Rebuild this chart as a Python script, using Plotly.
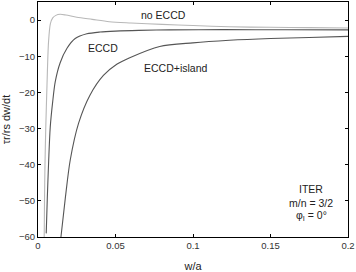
import plotly.graph_objects as go

# data
w_no = [0.0040, 0.0042, 0.0045, 0.0050, 0.0058, 0.0068, 0.0080, 0.0095, 0.0115, 0.0143, 0.018, 0.025, 0.035, 0.046, 0.060, 0.080, 0.100, 0.1235, 0.150, 0.175, 0.200]
v_no = [-60, -50, -40, -30, -18, -6, -1.0, 0.6, 1.3, 1.6, 1.4, 0.8, 0.2, -0.45, -0.8, -1.2, -1.5, -1.85, -2.0, -2.1, -2.2]

w_eccd = [0.0053, 0.0060, 0.0069, 0.0079, 0.0095, 0.0111, 0.0143, 0.0187, 0.024, 0.0315, 0.040, 0.050, 0.065, 0.085, 0.120, 0.160, 0.200]
v_eccd = [-59, -49.3, -38.7, -29.6, -22.5, -17.1, -11.8, -7.8, -5.1, -3.8, -3.3, -3.05, -2.85, -2.72, -2.65, -2.68, -2.72]

w_isl = [0.0148, 0.0176, 0.0208, 0.0262, 0.0336, 0.0422, 0.0508, 0.0592, 0.0785, 0.0999, 0.1235, 0.150, 0.175, 0.200]
v_isl = [-60, -49.3, -38.7, -28.5, -20.7, -15.3, -12.2, -10.4, -7.3, -6.3, -5.6, -5.1, -4.8, -4.5]

x_ticks = [0, 0.05, 0.1, 0.15, 0.2]
x_ticklabels = ["0", "0.05", "0.1", "0.15", "0.2"]
y_ticks = [0, -10, -20, -30, -40, -50, -60]
y_ticklabels = ["0", "\u221210", "\u221220", "\u221230", "\u221240", "\u221250", "\u221260"]

FONT = "Liberation Sans"

fig = go.Figure()
fig.add_trace(go.Scatter(x=w_no, y=v_no, mode="lines",
                         line=dict(color="#b8b8b8", width=1.1, shape="spline", smoothing=0.8)))
fig.add_trace(go.Scatter(x=w_eccd, y=v_eccd, mode="lines",
                         line=dict(color="#555555", width=1.1, shape="spline", smoothing=0.8)))
fig.add_trace(go.Scatter(x=w_isl, y=v_isl, mode="lines",
                         line=dict(color="#555555", width=1.1, shape="spline", smoothing=0.8)))

labels = [("no ECCD", 0.0810, 1.4), ("ECCD", 0.0422, -7.6), ("ECCD+island", 0.0890, -13.2),
          ("ITER", 0.1764, -46.8), ("m/n = 3/2", 0.1764, -50.5), ("\u03c6<sub>I</sub> = 0\u00b0", 0.1764, -54.3)]
for txt, xx, yy in labels:
    fig.add_annotation(x=xx, y=yy, text=txt, showarrow=False, xanchor="center", yanchor="middle",
                       font=dict(family=FONT, size=10.5, color="#222222"))

axis_common = dict(showgrid=False, zeroline=False, showline=True, linecolor="black", linewidth=1,
                   mirror="ticks", ticks="inside", ticklen=3, tickcolor="black",
                   tickfont=dict(family=FONT, size=9.5, color="#333333"))

fig.update_xaxes(range=[0, 0.2], tickvals=x_ticks, ticktext=x_ticklabels,
                 title=dict(text="w/a", font=dict(family=FONT, size=11, color="#222222"), standoff=12),
                 **axis_common)
fig.update_yaxes(range=[-60, 5], tickvals=y_ticks, ticktext=y_ticklabels,
                 title=dict(text="\u03c4r/rs dw/dt", font=dict(family=FONT, size=11, color="#222222"), standoff=6),
                 **axis_common)

fig.update_layout(width=356, height=272, margin=dict(l=38, r=7, t=1, b=29),
                  paper_bgcolor="white", plot_bgcolor="white", showlegend=False)

fig.write_html("out.html")
